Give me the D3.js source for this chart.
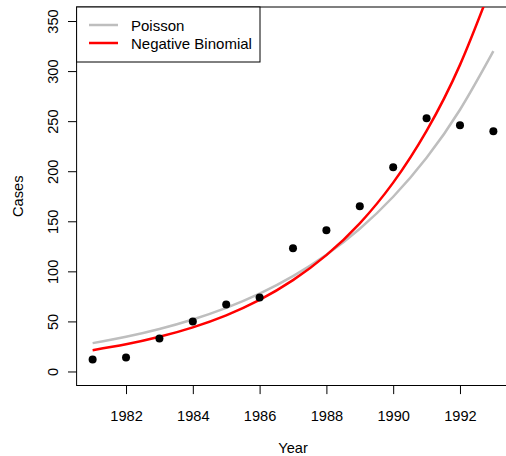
<!DOCTYPE html>
<html>
<head>
<meta charset="utf-8">
<script src="https://cdn.jsdelivr.net/npm/d3@7"></script>
<style>
  html, body { margin: 0; padding: 0; background: #fff; }
  svg { display: block; font-family: "Liberation Sans", Arial, Helvetica, sans-serif; }
</style>
</head>
<body>
<svg id="chart" width="506" height="456"></svg>
<script>
// ---- data ----
const years = [1981, 1982, 1983, 1984, 1985, 1986, 1987, 1988, 1989, 1990, 1991, 1992, 1993];
const cases = [12, 14, 33, 50, 67, 74, 123, 141, 165, 204, 253, 246, 240];
const poissonFit = [28.3, 34.6, 42.4, 51.9, 63.5, 77.7, 95.2, 116.5, 142.5, 174.5, 213.5, 261.4, 319.9];
const negBinFit = [21.3, 27.1, 34.6, 44.1, 56.1, 71.5, 91.2, 116.2, 148.0, 188.6, 240.3, 306.2, 390.1];
const xTicks = [1982, 1984, 1986, 1988, 1990, 1992];
const yTicks = [0, 50, 100, 150, 200, 250, 300, 350];
const legendLabels = ["Poisson", "Negative Binomial"];
const legendColors = ["#BEBEBE", "#FF0000"];

// ---- layout ----
const svg = d3.select("#chart");
const L = 76.6, R = 509.4, T = 7, B = 385.5;
const fs = 14.6;
const fsLeg = 15;

const x = d3.scaleLinear().domain([1980.52, 1993.48]).range([L, R]);
const y = d3.scaleLinear().domain([-14, 364]).range([B, T]);

svg.append("defs").append("clipPath").attr("id", "plotclip")
  .append("rect").attr("x", L).attr("y", T).attr("width", R - L).attr("height", B - T);

// axes
const xAxis = svg.append("g").attr("transform", `translate(0,${B})`)
  .call(d3.axisBottom(x).tickValues(xTicks).tickFormat(d3.format("d")).tickSize(8.6).tickPadding(16.5));
xAxis.select(".domain").remove();
xAxis.selectAll("text").attr("font-size", fs).attr("fill", "#000").attr("font-family", "Liberation Sans, Arial, sans-serif");
xAxis.selectAll("line").attr("stroke", "#000");

const yAxis = svg.append("g").attr("transform", `translate(${L},0)`)
  .call(d3.axisLeft(y).tickValues(yTicks).tickFormat(d3.format("d")).tickSize(8.6));
yAxis.select(".domain").remove();
yAxis.selectAll("line").attr("stroke", "#000");
yAxis.selectAll("text")
  .attr("font-size", fs).attr("fill", "#000").attr("font-family", "Liberation Sans, Arial, sans-serif")
  .attr("x", null).attr("dy", null)
  .attr("text-anchor", "middle")
  .attr("transform", function() { return `translate(${47.5 - L + 5},0) rotate(-90)`; })
  .attr("dominant-baseline", "central");

// box
svg.append("rect").attr("x", L).attr("y", T).attr("width", R - L).attr("height", B - T)
  .attr("fill", "none").attr("stroke", "#000").attr("stroke-width", 1);

// curves
const plot = svg.append("g").attr("clip-path", "url(#plotclip)");
const line = d3.line().x((d, i) => x(years[i])).y(d => y(d)).curve(d3.curveNatural);
plot.append("path").datum(poissonFit).attr("d", line)
  .attr("fill", "none").attr("stroke", legendColors[0]).attr("stroke-width", 2.5);
plot.append("path").datum(negBinFit).attr("d", line)
  .attr("fill", "none").attr("stroke", legendColors[1]).attr("stroke-width", 2.5);

// points
plot.selectAll("circle.pt").data(cases).enter().append("circle")
  .attr("class", "pt")
  .attr("cx", (d, i) => x(years[i])).attr("cy", d => y(d)).attr("r", 4)
  .attr("fill", "#000");

// axis titles
svg.append("text").attr("x", (L + R) / 2).attr("y", 452.5).attr("text-anchor", "middle")
  .attr("font-size", fs).text("Year");
svg.append("text").attr("transform", `translate(18,${(T + B) / 2}) rotate(-90)`)
  .attr("text-anchor", "middle").attr("dominant-baseline", "central").attr("font-size", fs).text("Cases");

// legend
const lg = svg.append("g");
lg.append("rect").attr("x", L).attr("y", T).attr("width", 260 - L).attr("height", 62 - T)
  .attr("fill", "#fff").attr("stroke", "#000").attr("stroke-width", 1);
legendLabels.forEach((lab, i) => {
  const yy = 25 + i * 18;
  lg.append("line").attr("x1", 89).attr("x2", 118).attr("y1", yy).attr("y2", yy)
    .attr("stroke", legendColors[i]).attr("stroke-width", 2.5);
  lg.append("text").attr("x", 131).attr("y", yy).attr("dominant-baseline", "central")
    .attr("font-size", fsLeg).text(lab);
});
</script>
</body>
</html>
